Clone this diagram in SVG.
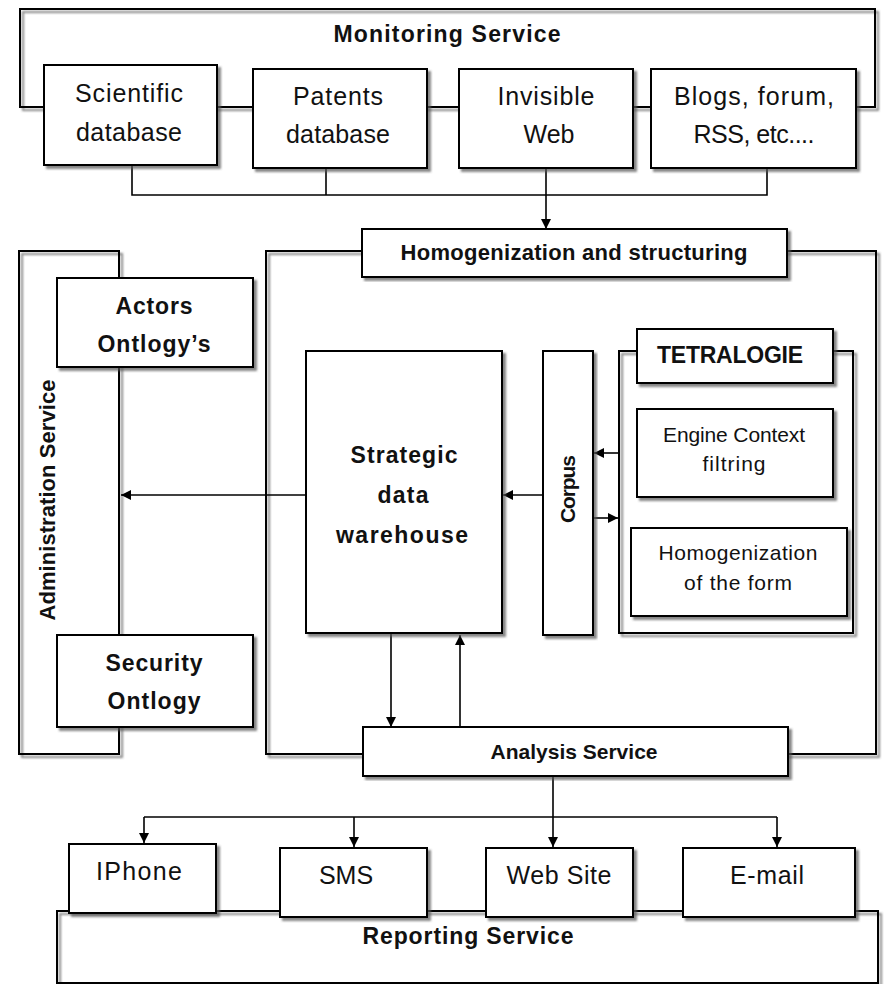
<svg xmlns="http://www.w3.org/2000/svg" width="884" height="984" viewBox="0 0 884 984">
  <defs>
    <filter id="ds" x="-5%" y="-5%" width="115%" height="115%">
      <feDropShadow dx="3" dy="3" stdDeviation="1" flood-color="#555" flood-opacity="0.7"/>
    </filter>
    <marker id="ah" viewBox="0 0 10 10" refX="10" refY="5" markerWidth="10" markerHeight="10" markerUnits="userSpaceOnUse" orient="auto">
      <path d="M0,0 L10,5 L0,10 z" fill="#000"/>
    </marker>
  </defs>
  <style>
    .box { fill: #fff; stroke: #000; stroke-width: 2; filter: url(#ds); }
    .frame { fill: none; stroke: #000; stroke-width: 2; filter: url(#ds); }
    .ln { fill: none; stroke: #000; stroke-width: 1.6; }
    .arr { fill: none; stroke: #000; stroke-width: 1.6; marker-end: url(#ah); }
    text { font-family: "Liberation Sans", Arial, sans-serif; fill: #111; text-anchor: middle; }
    .t { font-size: 25px; }
    .tm { font-size: 21px; }
    .tb { font-size: 23px; font-weight: bold; }
    .sb { font-size: 21px; font-weight: bold; }
    .hb { font-size: 22px; font-weight: bold; }
  </style>

  <!-- outer frames -->
  <g id="monitoring-service">
    <rect class="frame" x="20" y="9" width="855" height="98"/>
    <text class="tb" x="447" y="42" textLength="227" lengthAdjust="spacing">Monitoring Service</text>
  </g>
  <g id="administration-service">
    <rect class="frame" x="19" y="251" width="100" height="503"/>
    <text class="hb" transform="translate(55,500) rotate(-90)" textLength="241" lengthAdjust="spacing">Administration Service</text>
  </g>
  <g id="processing-frame">
    <rect class="frame" x="266" y="251" width="610" height="503"/>
  </g>
  <g id="tetralogie-frame">
    <rect class="frame" x="619" y="351" width="234" height="282"/>
  </g>
  <g id="reporting-service">
    <rect class="frame" x="57" y="911" width="821" height="72"/>
    <text class="tb" x="468" y="944" textLength="211" lengthAdjust="spacing">Reporting Service</text>
  </g>

  <!-- connectors -->
  <g id="connectors">
    <polyline class="ln" points="132,165 132,195 767,195 767,168"/>
    <line class="ln" x1="326" y1="168" x2="326" y2="195"/>
    <line class="arr" x1="546" y1="168" x2="546" y2="229"/>
    <line class="arr" x1="306" y1="495" x2="121" y2="495"/>
    <line class="arr" x1="543" y1="495" x2="503" y2="495"/>
    <line class="arr" x1="619" y1="453" x2="594" y2="453"/>
    <line class="arr" x1="593" y1="518" x2="618" y2="518"/>
    <line class="arr" x1="391" y1="634" x2="391" y2="727"/>
    <line class="arr" x1="460" y1="727" x2="460" y2="635"/>
    <line class="ln" x1="553" y1="776" x2="553" y2="817"/>
    <line class="ln" x1="144" y1="817" x2="777" y2="817"/>
    <line class="arr" x1="144" y1="817" x2="144" y2="843"/>
    <line class="arr" x1="354" y1="817" x2="354" y2="847"/>
    <line class="arr" x1="553" y1="817" x2="553" y2="847"/>
    <line class="arr" x1="777" y1="817" x2="777" y2="847"/>
  </g>

  <!-- sources -->
  <g id="scientific-database">
    <rect class="box" x="44" y="65" width="173" height="100"/>
    <text class="t" x="129" y="102" textLength="108" lengthAdjust="spacing">Scientific</text>
    <text class="t" x="129" y="141" textLength="106" lengthAdjust="spacing">database</text>
  </g>
  <g id="patents-database">
    <rect class="box" x="253" y="69" width="174" height="99"/>
    <text class="t" x="338" y="105" textLength="90" lengthAdjust="spacing">Patents</text>
    <text class="t" x="338" y="143" textLength="104" lengthAdjust="spacing">database</text>
  </g>
  <g id="invisible-web">
    <rect class="box" x="459" y="69" width="174" height="99"/>
    <text class="t" x="546" y="105" textLength="97" lengthAdjust="spacing">Invisible</text>
    <text class="t" x="549" y="143" textLength="51" lengthAdjust="spacing">Web</text>
  </g>
  <g id="blogs-forum-rss">
    <rect class="box" x="651" y="69" width="205" height="99"/>
    <text class="t" x="754" y="105" textLength="160" lengthAdjust="spacing">Blogs, forum,</text>
    <text class="t" x="754" y="143" textLength="121" lengthAdjust="spacing">RSS, etc....</text>
  </g>

  <g id="homogenization-structuring">
    <rect class="box" x="362" y="229" width="425" height="48"/>
    <text class="hb" x="574" y="260" textLength="347" lengthAdjust="spacing">Homogenization and structuring</text>
  </g>

  <!-- administration -->
  <g id="actors-ontology">
    <rect class="box" x="57" y="278" width="196" height="89"/>
    <text class="tb" x="154" y="314" textLength="77" lengthAdjust="spacing">Actors</text>
    <text class="tb" x="154" y="352" textLength="113" lengthAdjust="spacing">Ontlogy’s</text>
  </g>
  <g id="security-ontology">
    <rect class="box" x="57" y="635" width="196" height="92"/>
    <text class="tb" x="154" y="671" textLength="97" lengthAdjust="spacing">Security</text>
    <text class="tb" x="154" y="709" textLength="93" lengthAdjust="spacing">Ontlogy</text>
  </g>

  <!-- processing -->
  <g id="strategic-data-warehouse">
    <rect class="box" x="306" y="351" width="196" height="282"/>
    <text class="tb" x="404" y="463" textLength="107" lengthAdjust="spacing">Strategic</text>
    <text class="tb" x="403" y="503" textLength="51" lengthAdjust="spacing">data</text>
    <text class="tb" x="402" y="543" textLength="132" lengthAdjust="spacing">warehouse</text>
  </g>
  <g id="corpus">
    <rect class="box" x="543" y="351" width="50" height="284"/>
    <text class="sb" transform="translate(575,489) rotate(-90)" textLength="68" lengthAdjust="spacing">Corpus</text>
  </g>
  <g id="tetralogie">
    <rect class="box" x="637" y="329" width="196" height="54"/>
    <text class="tb" x="730" y="363" textLength="146" lengthAdjust="spacing">TETRALOGIE</text>
  </g>
  <g id="engine-context-filtring">
    <rect class="box" x="637" y="409" width="196" height="88"/>
    <text class="tm" x="734" y="442" textLength="142" lengthAdjust="spacing">Engine Context</text>
    <text class="tm" x="734" y="471" textLength="63" lengthAdjust="spacing">filtring</text>
  </g>
  <g id="homogenization-form">
    <rect class="box" x="631" y="528" width="216" height="88"/>
    <text class="tm" x="738" y="560" textLength="159" lengthAdjust="spacing">Homogenization</text>
    <text class="tm" x="738" y="590" textLength="108" lengthAdjust="spacing">of the form</text>
  </g>

  <g id="analysis-service">
    <rect class="box" x="363" y="727" width="425" height="49"/>
    <text class="sb" x="574" y="759" textLength="167" lengthAdjust="spacing">Analysis Service</text>
  </g>

  <!-- reporting channels -->
  <g id="iphone">
    <rect class="box" x="69" y="844" width="147" height="69"/>
    <text class="t" x="139" y="880" textLength="86" lengthAdjust="spacing">IPhone</text>
  </g>
  <g id="sms">
    <rect class="box" x="280" y="848" width="147" height="69"/>
    <text class="t" x="346" y="884">SMS</text>
  </g>
  <g id="web-site">
    <rect class="box" x="486" y="848" width="147" height="69"/>
    <text class="t" x="559" y="884" textLength="105" lengthAdjust="spacing">Web Site</text>
  </g>
  <g id="e-mail">
    <rect class="box" x="683" y="848" width="172" height="69"/>
    <text class="t" x="767" y="884" textLength="74" lengthAdjust="spacing">E-mail</text>
  </g>
</svg>
